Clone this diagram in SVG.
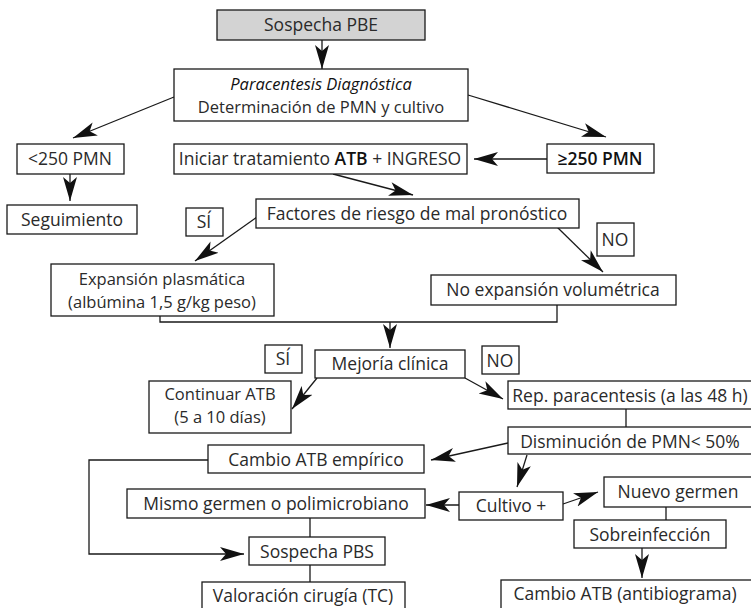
<svg xmlns="http://www.w3.org/2000/svg" width="751" height="608" viewBox="0 0 751 608">
  <style>
    .box { fill: #ffffff; stroke: #1a1a1a; stroke-width: 1.3; }
    .grey { fill: #d3d3d3; }
    .t { font-family: "Open Sans", "Noto Sans", "Liberation Sans", sans-serif; font-size: 17.5px; fill: #2a2a2a; text-anchor: middle; }
    .s { font-size: 16.5px; }
    .b { font-weight: 600; fill: #111; }
    .i { font-style: italic; fill: #111; }
    .c { fill: none; stroke: #1a1a1a; stroke-width: 1.3; }
    .a { marker-end: url(#head); }
  </style>
  <defs>
    <marker id="head" markerUnits="userSpaceOnUse" markerWidth="26" markerHeight="16" refX="24" refY="8" orient="auto">
      <path d="M0,1 L24,8 L0,15 L6,8 Z" fill="#111"/>
    </marker>
  </defs>

  <!-- connectors -->
  <g id="connectors">
    <line class="c a" x1="322" y1="40" x2="322" y2="69"/>
    <line class="c a" x1="174" y1="97" x2="73" y2="138"/>
    <line class="c a" x1="468" y1="95" x2="606" y2="137"/>
    <line class="c a" x1="70" y1="174" x2="70" y2="201"/>
    <line class="c a" x1="547" y1="159" x2="474" y2="159"/>
    <line class="c a" x1="333" y1="174" x2="413" y2="195"/>
    <line class="c a" x1="257" y1="217" x2="195" y2="261"/>
    <line class="c a" x1="557" y1="227" x2="603" y2="272"/>
    <polyline class="c" points="160,316 160,322 557,322 557,305"/>
    <line class="c a" x1="390" y1="322" x2="390" y2="348"/>
    <line class="c a" x1="317" y1="378" x2="292" y2="409"/>
    <line class="c a" x1="465" y1="378" x2="503" y2="399"/>
    <line class="c" x1="626" y1="409" x2="626" y2="427"/>
    <line class="c a" x1="508" y1="443" x2="431" y2="460"/>
    <polyline class="c a" points="208,460 89,460 89,554 244,554"/>
    <line class="c a" x1="527" y1="455" x2="517" y2="487"/>
    <line class="c a" x1="459" y1="505" x2="426" y2="505"/>
    <line class="c a" x1="563" y1="504" x2="598" y2="492"/>
    <line class="c" x1="666" y1="507" x2="666" y2="520"/>
    <line class="c a" x1="642" y1="548" x2="642" y2="578"/>
    <line class="c" x1="310" y1="518" x2="310" y2="537"/>
    <line class="c" x1="310" y1="565" x2="310" y2="582"/>
  </g>

  <g id="sospecha-pbe">
    <rect class="box grey" x="217" y="10" width="208" height="30"/>
    <text class="t" x="321" y="31">Sospecha PBE</text>
  </g>
  <g id="paracentesis">
    <rect class="box" x="174" y="69" width="294" height="52"/>
    <text class="t s i" x="321" y="90">Paracentesis Diagnóstica</text>
    <text class="t s" x="321" y="113">Determinación de PMN y cultivo</text>
  </g>
  <g id="pmn-menor">
    <rect class="box" x="17" y="144" width="107" height="30"/>
    <text class="t" x="70" y="165">&lt;250 PMN</text>
  </g>
  <g id="seguimiento">
    <rect class="box" x="7" y="205" width="130" height="29"/>
    <text class="t" x="72" y="226">Seguimiento</text>
  </g>
  <g id="iniciar">
    <rect class="box" x="174" y="144" width="293" height="30"/>
    <text class="t" x="320" y="165">Iniciar tratamiento <tspan class="b">ATB</tspan> + INGRESO</text>
  </g>
  <g id="pmn-mayor">
    <rect class="box" x="547" y="144" width="107" height="29"/>
    <text class="t b" x="600" y="165">≥250 PMN</text>
  </g>
  <g id="factores">
    <rect class="box" x="256" y="199" width="323" height="29"/>
    <text class="t" x="417" y="220">Factores de riesgo de mal pronóstico</text>
  </g>
  <g id="si-1">
    <rect class="box" x="186" y="208" width="37" height="28"/>
    <text class="t" x="204" y="228">SÍ</text>
  </g>
  <g id="no-1">
    <rect class="box" x="597" y="223" width="37" height="33"/>
    <text class="t" x="615" y="246">NO</text>
  </g>
  <g id="expansion">
    <rect class="box" x="51" y="264" width="223" height="52"/>
    <text class="t s" x="162" y="285">Expansión plasmática</text>
    <text class="t s" x="162" y="308">(albúmina 1,5 g/kg peso)</text>
  </g>
  <g id="no-expansion">
    <rect class="box" x="431" y="275" width="245" height="30"/>
    <text class="t" x="553" y="296">No expansión volumétrica</text>
  </g>
  <g id="mejoria">
    <rect class="box" x="315" y="350" width="150" height="28"/>
    <text class="t" x="390" y="370">Mejoría clínica</text>
  </g>
  <g id="si-2">
    <rect class="box" x="265" y="345" width="37" height="28"/>
    <text class="t" x="283" y="365">SÍ</text>
  </g>
  <g id="no-2">
    <rect class="box" x="482" y="346" width="37" height="28"/>
    <text class="t" x="500" y="367">NO</text>
  </g>
  <g id="continuar">
    <rect class="box" x="149" y="381" width="142" height="52"/>
    <text class="t s" x="220" y="400">Continuar ATB</text>
    <text class="t s" x="220" y="423">(5 a 10 días)</text>
  </g>
  <g id="rep-paracentesis">
    <rect class="box" x="508" y="381" width="250" height="28"/>
    <text class="t" x="630" y="402">Rep. paracentesis (a las 48 h)</text>
  </g>
  <g id="disminucion">
    <rect class="box" x="508" y="427" width="250" height="27"/>
    <text class="t" x="630" y="448">Disminución de PMN&lt; 50%</text>
  </g>
  <g id="cambio-empirico">
    <rect class="box" x="208" y="445" width="216" height="28"/>
    <text class="t" x="316" y="466">Cambio ATB empírico</text>
  </g>
  <g id="mismo-germen">
    <rect class="box" x="127" y="489" width="298" height="29"/>
    <text class="t" x="276" y="510">Mismo germen o polimicrobiano</text>
  </g>
  <g id="cultivo">
    <rect class="box" x="459" y="492" width="104" height="28"/>
    <text class="t" x="511" y="512">Cultivo +</text>
  </g>
  <g id="nuevo-germen">
    <rect class="box" x="604" y="477" width="154" height="30"/>
    <text class="t" x="678" y="498">Nuevo germen</text>
  </g>
  <g id="sobreinfeccion">
    <rect class="box" x="574" y="520" width="152" height="28"/>
    <text class="t" x="650" y="541">Sobreinfección</text>
  </g>
  <g id="sospecha-pbs">
    <rect class="box" x="249" y="537" width="136" height="28"/>
    <text class="t" x="317" y="558">Sospecha PBS</text>
  </g>
  <g id="valoracion">
    <rect class="box" x="202" y="582" width="203" height="40"/>
    <text class="t" x="303" y="602">Valoración cirugía (TC)</text>
  </g>
  <g id="cambio-antibiograma">
    <rect class="box" x="501" y="580" width="260" height="40"/>
    <text class="t" x="625" y="600">Cambio ATB (antibiograma)</text>
  </g>
</svg>
